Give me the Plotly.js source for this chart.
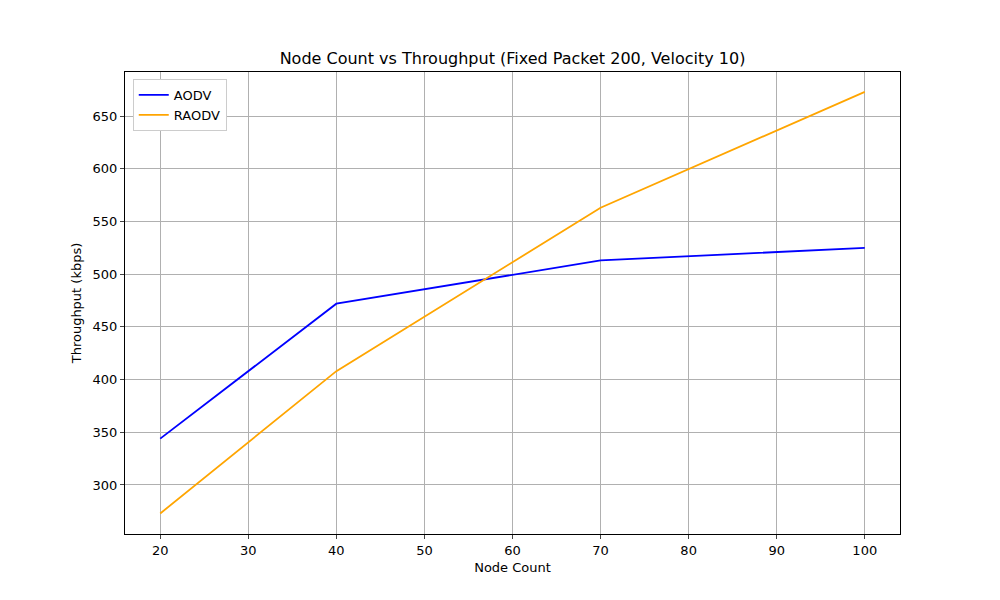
<!DOCTYPE html>
<html><head><script src="https://cdn.plot.ly/plotly-3.0.1.min.js"></script></head>
<body style="margin:0"><div id="c" style="width:1000px;height:600px"></div>
<script>
const nodes=[20,40,70,100];
const aodv=[344,472,513,525];
const raodv=[273,408,563,673];
const ax={showline:true,mirror:true,linecolor:'black',linewidth:1,ticks:'outside',ticklen:4,showgrid:true,gridcolor:'#b0b0b0',zeroline:false,tickfont:{size:13,color:'black'}};
Plotly.newPlot('c',[
{x:nodes,y:aodv,name:'AODV',mode:'lines',line:{color:'blue',width:1.8}},
{x:nodes,y:raodv,name:'RAODV',mode:'lines',line:{color:'orange',width:1.8}}
],{
width:1000,height:600,paper_bgcolor:'white',plot_bgcolor:'white',
font:{family:'DejaVu Sans',color:'black'},
margin:{l:125,r:100,t:72,b:66},
title:{text:'Node Count vs Throughput (Fixed Packet 200, Velocity 10)',font:{size:16},x:0.5125,y:0.903,yanchor:'middle'},
xaxis:Object.assign({},ax,{range:[16,104],dtick:10,title:{text:'Node Count',font:{size:13},standoff:6}}),
yaxis:Object.assign({},ax,{range:[253.5,691.8],dtick:50,title:{text:'Throughput (kbps)',font:{size:13},standoff:8}}),
showlegend:true,
legend:{x:0.01,y:0.985,xanchor:'left',yanchor:'top',bordercolor:'#ccc',borderwidth:1,font:{size:13},bgcolor:'white',tracegroupgap:0}
},{displayModeBar:false});
</script></body></html>
